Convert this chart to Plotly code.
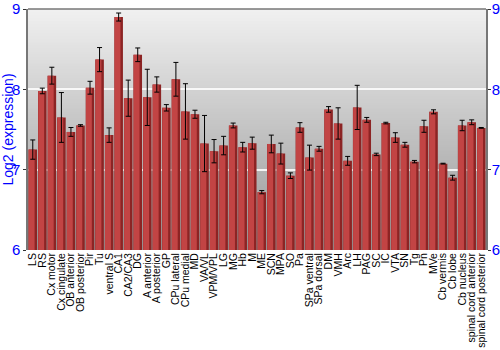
import plotly.graph_objects as go

regions = ["LS", "RS", "Cx motor", "Cx cingulate", "OB anterior", "OB posterior", "Pir", "Tu",
           "ventral S", "CA1", "CA2/CA3", "DG", "A anterior", "A posterior", "GP",
           "CPu lateral", "CPu medial", "MD", "VA/VL", "VPM/VPL", "LG", "MG", "Hb", "M", "ME",
           "SCN", "MPA", "SO", "Pa", "SPa ventral", "SPa dorsal", "DM",
           "VMH", "Arc", "LH", "PAG", "SC", "IC", "VTA", "SN", "Tg", "Pn", "MVe",
           "Cb vermis", "Cb lobe", "Cb nucleus", "spinal cord anterior", "spinal cord posterior"]

expression = [7.25, 7.98, 8.17, 7.65, 7.47, 7.55, 8.02, 8.37,
              7.43, 8.90, 7.89, 8.43, 7.90, 8.06, 7.77,
              8.125, 7.725, 7.69, 7.325, 7.23, 7.30, 7.55, 7.28, 7.33, 6.72,
              7.32, 7.20, 6.925, 7.525, 7.15, 7.26, 7.75,
              7.575, 7.11, 7.775, 7.62, 7.19, 7.58, 7.40, 7.31, 7.10, 7.54, 7.72,
              7.075, 6.90, 7.55, 7.59, 7.52]

errors = [0.12, 0.035, 0.105, 0.31, 0.055, 0.01, 0.08, 0.15,
          0.09, 0.05, 0.225, 0.085, 0.35, 0.095, 0.04,
          0.21, 0.345, 0.05, 0.35, 0.145, 0.115, 0.03, 0.06, 0.075, 0.02,
          0.11, 0.13, 0.035, 0.06, 0.155, 0.03, 0.035,
          0.195, 0.055, 0.275, 0.03, 0.015, 0.01, 0.06, 0.03, 0.015, 0.075, 0.025,
          0.005, 0.03, 0.065, 0.03, 0.005]

y_ticks = [6, 7, 8, 9]

heights = [v - 6 for v in expression]

fig = go.Figure()
# dark body of each bar
fig.add_trace(go.Bar(
    x=regions, y=heights, base=6, width=0.9, offset=-0.45,
    marker=dict(color="#8c2424", line=dict(width=0)),
    showlegend=False, hoverinfo="skip",
))
# lighter left highlight of each bar
fig.add_trace(go.Bar(
    x=regions, y=heights, base=6, width=0.62, offset=-0.43,
    marker=dict(color="#c24444", line=dict(width=0)),
    showlegend=False,
))
# error bars
fig.add_trace(go.Scatter(
    x=regions, y=expression, mode="markers", marker=dict(opacity=0, size=1),
    error_y=dict(type="data", array=errors, color="black", thickness=1, width=2.5),
    showlegend=False, hoverinfo="skip",
))

# gradient background (overlapping rects to avoid seams)
n = 80
shapes = []
for i in range(n):
    t = i / (n - 1)
    c = int(round(0xf0 - (0xf0 - 0x96) * t))
    shapes.append(dict(type="rect", xref="x domain", yref="y domain",
                       x0=0, x1=1, y0=0, y1=1 - i / n,
                       fillcolor=f"rgb({c},{c},{c})", line=dict(width=0), layer="below"))
shapes.append(dict(type="line", xref="x domain", yref="y domain", x0=0, x1=1, y0=1, y1=1,
                   line=dict(color="#777777", width=1.5)))

axis_font = dict(family="Liberation Sans, Arial, sans-serif", size=15, color="#0000ff")
fig.update_layout(
    width=500, height=350,
    margin=dict(l=28, r=14, t=9, b=100),
    paper_bgcolor="white", plot_bgcolor="rgba(0,0,0,0)",
    barmode="overlay",
    shapes=shapes,
    font=dict(family="Liberation Sans, Arial, sans-serif"),
    xaxis=dict(tickangle=-90, tickfont=dict(size=10.5, color="black"), showgrid=False,
               tickmode="array", tickvals=regions, ticktext=regions,
               ticks="", showline=False, automargin=False, range=[-0.5, len(regions) - 0.5]),
    yaxis=dict(range=[6, 9], tickvals=y_ticks, ticktext=[str(v) for v in y_ticks],
               tickfont=axis_font, showgrid=True, gridcolor="rgba(255,255,255,0.85)", gridwidth=1.5,
               zeroline=False, showline=True, linecolor="#777777", linewidth=1.5,
               ticks="outside", ticklen=3, tickcolor="#333333",
               title=dict(text="Log2 (expression)", font=dict(size=14, color="#0000ff"), standoff=2),
               automargin=False),
    yaxis2=dict(range=[6, 9], tickvals=y_ticks, ticktext=[str(v) for v in y_ticks],
                overlaying="y", side="right", tickfont=axis_font, showgrid=False,
                zeroline=False, showline=True, linecolor="#777777", linewidth=1.5,
                ticks="outside", ticklen=3, tickcolor="#333333", automargin=False,
                ticklabelstandoff=-2),
)
fig.add_trace(go.Scatter(x=regions, y=expression, yaxis="y2", mode="markers",
                         marker=dict(opacity=0), hoverinfo="skip", showlegend=False))
fig.write_html("out.html")
